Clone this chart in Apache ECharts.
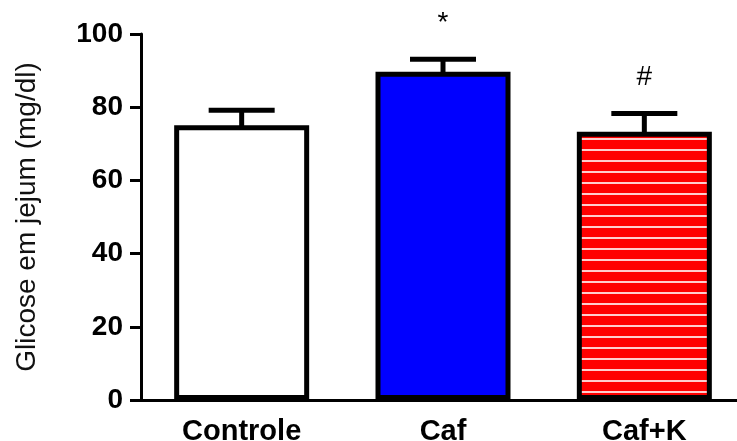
<!DOCTYPE html>
<html>
<head>
<meta charset="utf-8">
<script src="https://cdn.jsdelivr.net/npm/echarts@6/dist/echarts.min.js"></script>
<style>html,body{margin:0;padding:0;background:#fff;}#c{width:737px;height:441px;}</style>
</head>
<body>
<div id="c"></div>
<script>
const categories = ['Controle', 'Caf', 'Caf+K'];
const means = [75.1, 89.7, 73.3];
const errTop = [79.2, 93.1, 78.3];
const annotations = ['', '*', '#'];
const yTicks = [0, 20, 40, 60, 80, 100];

// stripe pattern for Caf+K
const pc = document.createElement('canvas');
pc.width = 8; pc.height = 11;
const pctx = pc.getContext('2d');
pctx.fillStyle = '#ff0000';
pctx.fillRect(0, 0, 8, 11);
pctx.fillStyle = '#ff9a9a';
pctx.fillRect(0, 6, 8, 2);
pctx.fillStyle = '#ffffff';
pctx.fillRect(0, 6.5, 8, 1);

const fills = ['#ffffff', '#0000ff', {image: pc, repeat: 'repeat'}];
const FONT = 'Liberation Sans, Arial, sans-serif';

const chart = echarts.init(document.getElementById('c'), null, {renderer: 'canvas'});
chart.setOption({
  animation: false,
  backgroundColor: '#ffffff',
  grid: {left: 141, top: 34, width: 604, height: 366, containLabel: false, outerBoundsMode: 'none'},
  xAxis: {
    type: 'category',
    data: categories,
    axisLine: {lineStyle: {color: '#000', width: 3}},
    axisTick: {alignWithLabel: true, length: 10, lineStyle: {color: '#000', width: 3}},
    axisLabel: {color: '#000', fontWeight: 'bold', fontSize: 29, fontFamily: FONT, margin: 17}
  },
  yAxis: {
    type: 'value',
    min: 0, max: 100, interval: 20,
    name: 'Glicose em jejum (mg/dl)',
    nameLocation: 'middle',
    nameRotate: 90,
    nameGap: 100,
    nameTextStyle: {color: '#111', fontSize: 28, fontFamily: FONT},
    axisLine: {show: true, lineStyle: {color: '#000', width: 3}},
    axisTick: {show: true, length: 11, lineStyle: {color: '#000', width: 3}},
    splitLine: {show: false},
    axisLabel: {color: '#000', fontWeight: 'bold', fontSize: 28, fontFamily: FONT, margin: 18,
      formatter: v => yTicks.includes(v) ? String(v) : ''}
  },
  series: [
    {
      type: 'bar',
      data: means.map((v, i) => ({value: v, itemStyle: {color: fills[i]}})),
      barWidth: 135,
      itemStyle: {borderColor: '#000', borderWidth: 5},
      z: 2
    },
    {
      type: 'custom',
      z: 3,
      data: means.map((v, i) => [i, v, errTop[i]]),
      renderItem: function (params, api) {
        const i = api.value(0);
        const top = api.coord([i, api.value(2)]);
        const base = api.coord([i, api.value(1)]);
        const capHalf = 33;
        return {
          type: 'group',
          children: [
            {type: 'line', shape: {x1: top[0], y1: base[1] + 3, x2: top[0], y2: top[1]}, style: {stroke: '#000', lineWidth: 5}},
            {type: 'line', shape: {x1: top[0] - capHalf, y1: top[1], x2: top[0] + capHalf, y2: top[1]}, style: {stroke: '#000', lineWidth: 5}},
            {type: 'text', x: top[0], y: top[1] - 36, style: {text: annotations[i], fill: '#000', fontSize: 28, fontFamily: FONT, align: 'center', verticalAlign: 'middle'}}
          ]
        };
      }
    }
  ]
});
</script>
</body>
</html>
